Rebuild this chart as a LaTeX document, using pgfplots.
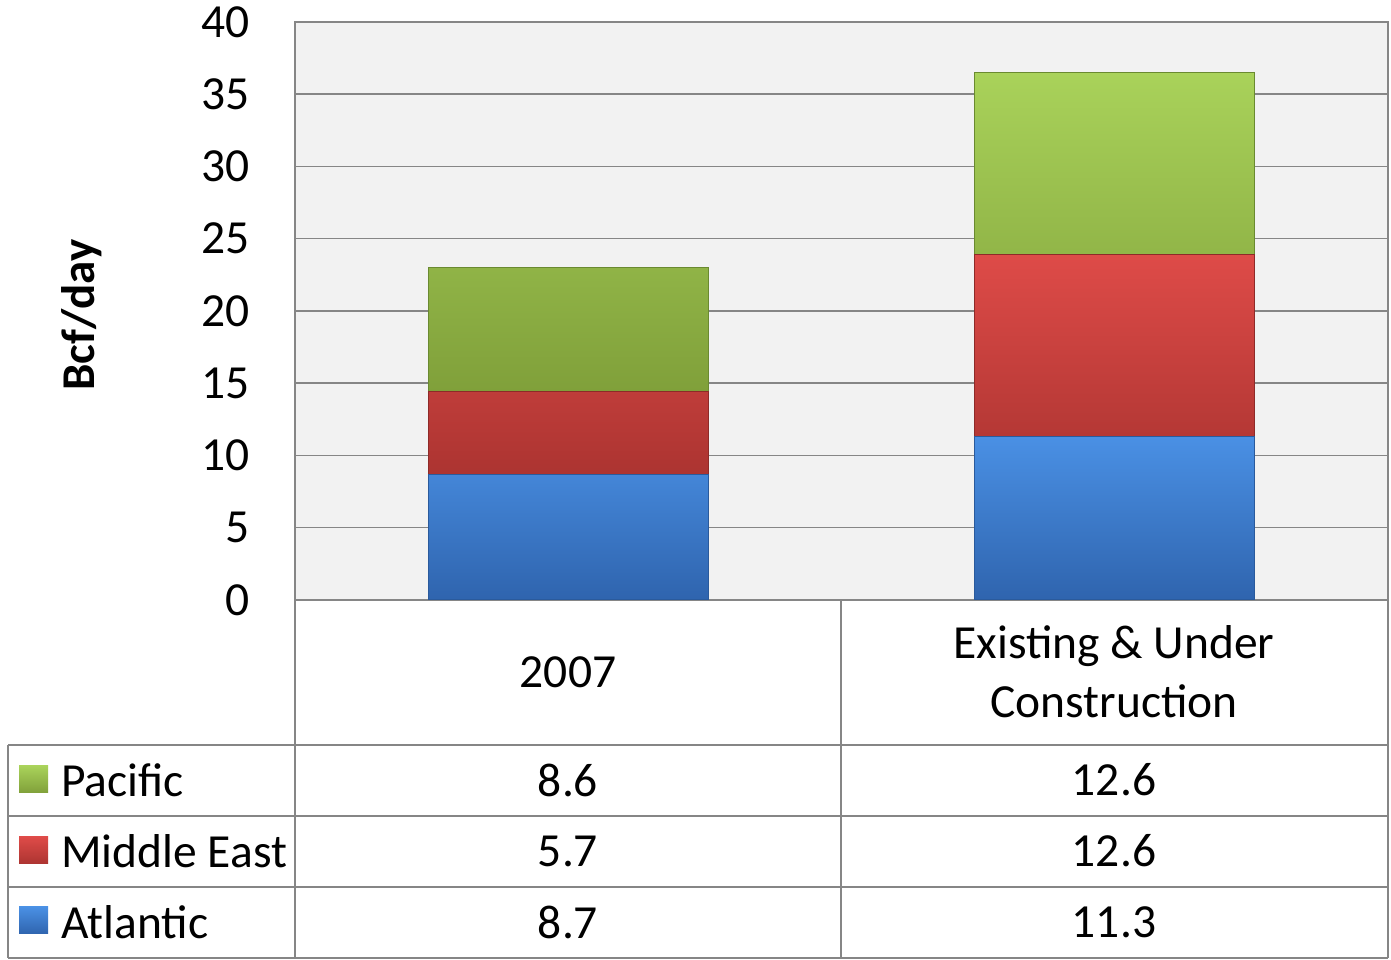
\documentclass[border=0pt]{standalone}
\usepackage{pgfplots}
\pgfplotsset{compat=1.18}
\usepackage{fontspec}
\setmainfont{Carlito}
\definecolor{gridc}{HTML}{868686}
\definecolor{bgc}{HTML}{F2F2F2}
\definecolor{blueT}{HTML}{4A90E4}
\definecolor{blueB}{HTML}{2F64AE}
\definecolor{blueE}{HTML}{2A5A9C}
\definecolor{redT}{HTML}{DE4B48}
\definecolor{redB}{HTML}{AC3431}
\definecolor{redE}{HTML}{8E2A28}
\definecolor{greenT}{HTML}{A9D25A}
\definecolor{greenB}{HTML}{80A03A}
\definecolor{greenE}{HTML}{6A8A30}
\newcommand{\bigf}{\fontsize{47.5}{59}\selectfont}
\begin{document}
\begin{tikzpicture}[x=1pt,y=1pt]
\useasboundingbox (0,0) rectangle (1391,960);
\begin{axis}[
  at={(295pt,360pt)}, anchor=south west,
  scale only axis, width=1093pt, height=578pt,
  xmin=0, xmax=2, ymin=0, ymax=40,
  ytick={0,5,...,40}, xtick=\empty,
  ymajorgrids, grid style={gridc, line width=1.5pt},
  axis background/.style={fill=bgc},
  axis line style={gridc, line width=1.5pt},
  major tick length=0pt,
  /pgf/number format/assume math mode=true,
  yticklabel style={font=\bigf, inner sep=0pt, xshift=-45pt},
  ybar stacked, bar width=0.512,
]
\addplot[draw=blueE, line width=1pt, top color=blueT, bottom color=blueB] coordinates {(0.5,8.7) (1.5,11.3)};
\addplot[draw=redE, line width=1pt, top color=redT, bottom color=redB] coordinates {(0.5,5.7) (1.5,12.6)};
\addplot[draw=greenE, line width=1pt, top color=greenT, bottom color=greenB] coordinates {(0.5,8.6) (1.5,12.6)};
\end{axis}
% y label
\node[rotate=90, font=\fontsize{47}{47}\selectfont\bfseries] at (82,645) {Bcf/day};
% data table
\begin{scope}[gridc, line width=2pt]
\draw (295,360) -- (295,2);
\draw (841,360) -- (841,2);
\draw (1388,360) -- (1388,2);
\draw (8,215) -- (8,2);
\draw (8,215) -- (1388,215);
\draw (8,144) -- (1388,144);
\draw (8,73) -- (1388,73);
\draw (8,2) -- (1388,2);
\end{scope}
\node[font=\bigf] at (568,288) {2007};
\node[font=\bigf, align=center] at (1114,288) {Existing \& Under\\Construction};
% legend keys
\fill[top color=greenT, bottom color=greenB] (19,167) rectangle (48,194);
\fill[top color=redT, bottom color=redB] (19,96) rectangle (48,123);
\fill[top color=blueT, bottom color=blueB] (19,26) rectangle (48,53);
\node[font=\bigf, anchor=west, inner sep=0pt] at (61,180) {Pacific};
\node[font=\bigf, anchor=west, inner sep=0pt] at (61,109) {Middle East};
\node[font=\bigf, anchor=west, inner sep=0pt] at (61,38) {Atlantic};
\node[font=\bigf] at (568,180) {8.6};
\node[font=\bigf] at (1114,180) {12.6};
\node[font=\bigf] at (568,109) {5.7};
\node[font=\bigf] at (1114,109) {12.6};
\node[font=\bigf] at (568,38) {8.7};
\node[font=\bigf] at (1114,38) {11.3};
\end{tikzpicture}
\end{document}
